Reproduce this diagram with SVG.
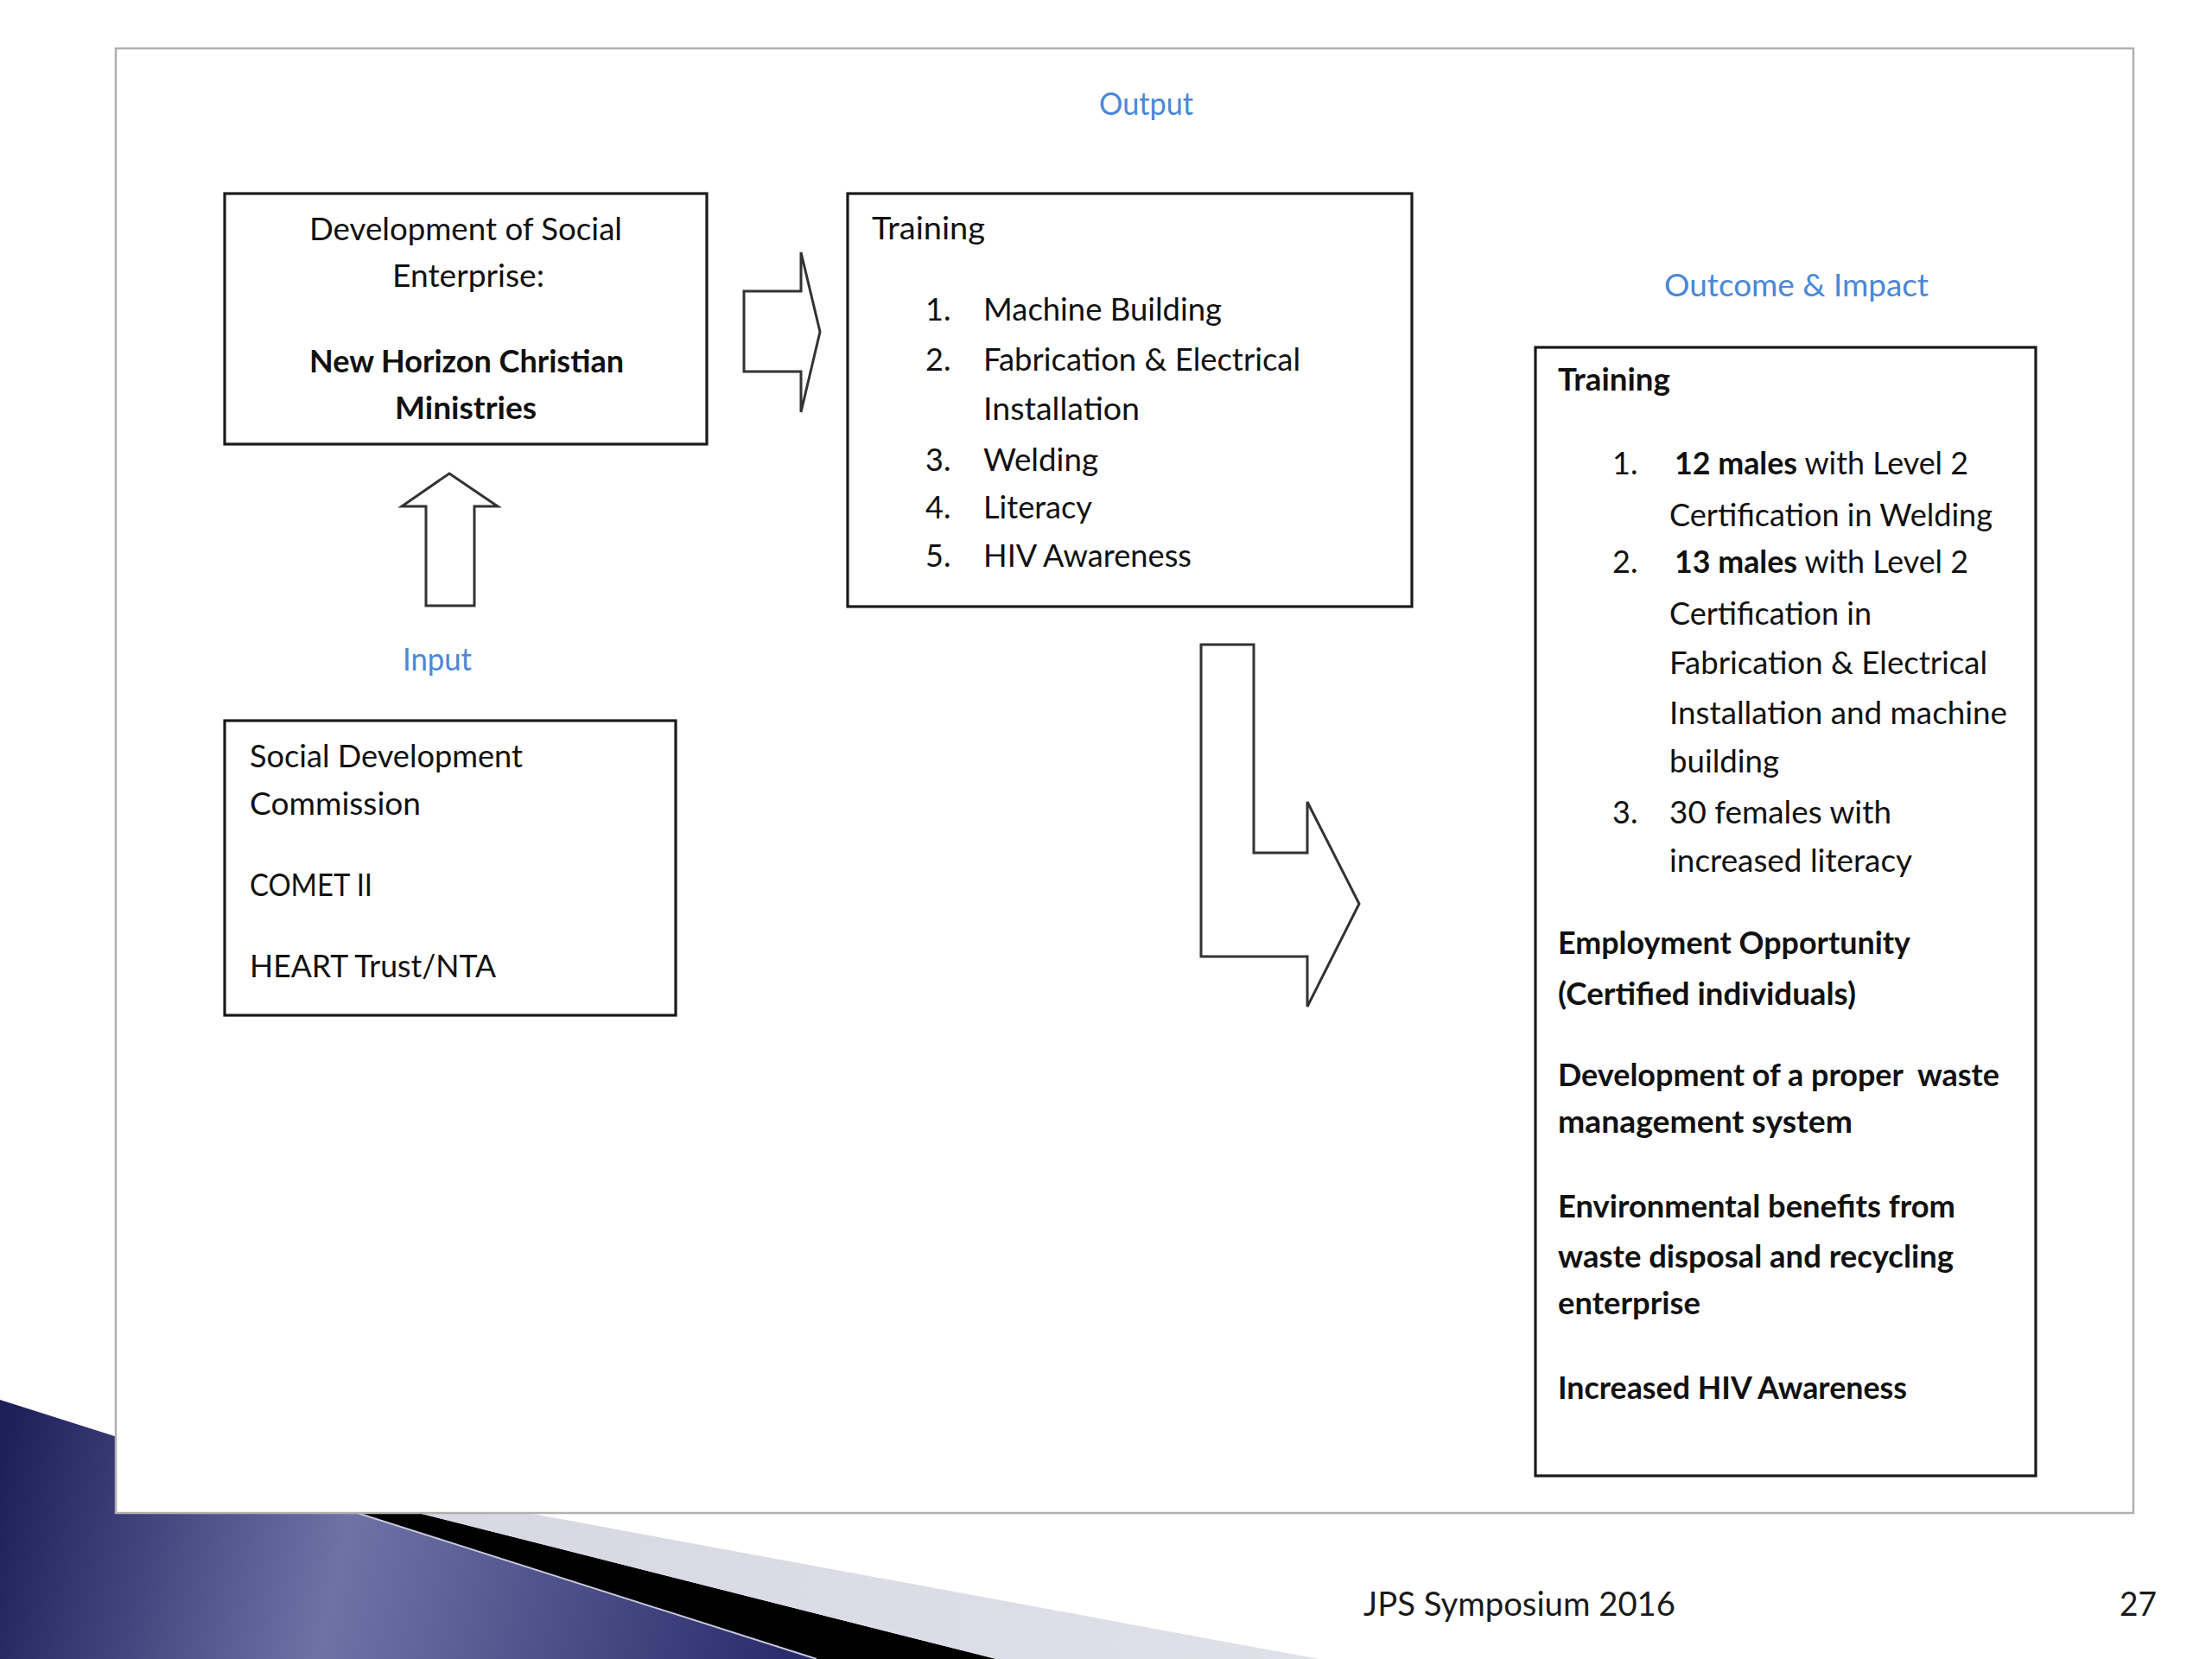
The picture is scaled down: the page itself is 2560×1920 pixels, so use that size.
<svg xmlns="http://www.w3.org/2000/svg" width="2560" height="1920" viewBox="0 0 2560 1920">
<defs>
<linearGradient id="blueG" gradientUnits="userSpaceOnUse" x1="0" y1="1700" x2="945" y2="1920">
<stop offset="0" stop-color="#1e205c"/>
<stop offset="0.42" stop-color="#6e73a6"/>
<stop offset="1" stop-color="#262867"/>
</linearGradient>
<linearGradient id="greyG" gradientUnits="userSpaceOnUse" x1="400" y1="1750" x2="1500" y2="1920">
<stop offset="0" stop-color="#d6d7e0"/>
<stop offset="1" stop-color="#dfe0e8"/>
</linearGradient>
</defs>
<style>
.t{font-family:Lato,"Open Sans","Liberation Sans",sans-serif;font-size:36px;fill:#111}
.b{font-weight:700}
.lbl{font-family:Lato,"Open Sans","Liberation Sans",sans-serif;font-size:36px;fill:#4a88d8}
.box{fill:#fff;stroke:#1a1a1a;stroke-width:3.2}
.arr{fill:#fff;stroke:#333;stroke-width:3;stroke-linejoin:miter}
.foot{font-family:Lato,"Open Sans","Liberation Sans",sans-serif;font-size:39px;fill:#1a1a1a}
</style>
<rect x="0" y="0" width="2560" height="1920" fill="#fff"/>
<g id="decoration">
<polygon points="0,1620 945,1920 0,1920" fill="url(#blueG)"/>
<polygon points="140,1664 945,1920 1153,1920" fill="#000"/>
<polygon points="140,1664 1153,1920 1526,1920" fill="url(#greyG)"/>
<line x1="140" y1="1664" x2="945" y2="1920" stroke="#c8cae0" stroke-width="2"/>
</g>
<g id="slide">
<rect x="134" y="56" width="2335" height="1695" fill="#fff" stroke="#b0b0b0" stroke-width="2.5"/>
</g>
<g id="label-output"><text class="lbl" x="1272" y="133" textLength="109" lengthAdjust="spacingAndGlyphs">Output</text></g>
<g id="label-input"><text class="lbl" x="466" y="776" textLength="80" lengthAdjust="spacingAndGlyphs">Input</text></g>
<g id="label-outcome"><text class="lbl" x="1926" y="343" textLength="306" lengthAdjust="spacingAndGlyphs">Outcome &amp; Impact</text></g>

<g id="node-enterprise">
<rect class="box" x="260" y="224" width="558" height="290"/>
<text class="t" x="358" y="278" textLength="362" lengthAdjust="spacingAndGlyphs">Development of Social</text>
<text class="t" x="454" y="332" textLength="176" lengthAdjust="spacingAndGlyphs">Enterprise:</text>
<text class="t b" x="358" y="431" textLength="364" lengthAdjust="spacingAndGlyphs">New Horizon Christian</text>
<text class="t b" x="457" y="485" textLength="164" lengthAdjust="spacingAndGlyphs">Ministries</text>
</g>

<g id="node-training">
<rect class="box" x="981" y="224" width="653" height="478"/>
<text class="t" x="1009" y="277" textLength="131" lengthAdjust="spacingAndGlyphs">Training</text>
<text class="t" x="1071" y="371">1.</text>
<text class="t" x="1138" y="371" textLength="276" lengthAdjust="spacingAndGlyphs">Machine Building</text>
<text class="t" x="1071" y="429">2.</text>
<text class="t" x="1138" y="429" textLength="367" lengthAdjust="spacingAndGlyphs">Fabrication &amp; Electrical</text>
<text class="t" x="1138" y="486" textLength="181" lengthAdjust="spacingAndGlyphs">Installation</text>
<text class="t" x="1071" y="545">3.</text>
<text class="t" x="1138" y="545" textLength="133" lengthAdjust="spacingAndGlyphs">Welding</text>
<text class="t" x="1071" y="600">4.</text>
<text class="t" x="1138" y="600" textLength="126" lengthAdjust="spacingAndGlyphs">Literacy</text>
<text class="t" x="1071" y="656">5.</text>
<text class="t" x="1138" y="656" textLength="241" lengthAdjust="spacingAndGlyphs">HIV Awareness</text>
</g>

<g id="node-input">
<rect class="box" x="260" y="834" width="522" height="341"/>
<text class="t" x="289" y="888" textLength="316" lengthAdjust="spacingAndGlyphs">Social Development</text>
<text class="t" x="289" y="943" textLength="198" lengthAdjust="spacingAndGlyphs">Commission</text>
<text class="t" x="289" y="1037" textLength="142" lengthAdjust="spacingAndGlyphs">COMET II</text>
<text class="t" x="289" y="1131" textLength="285" lengthAdjust="spacingAndGlyphs">HEART Trust/NTA</text>
</g>

<g id="node-outcome">
<rect class="box" x="1777" y="402" width="579" height="1306"/>
<text class="t b" x="1803" y="452" textLength="130" lengthAdjust="spacingAndGlyphs">Training</text>
<text class="t" x="1866" y="549">1.</text>
<text class="t" x="1938" y="549" textLength="340" lengthAdjust="spacingAndGlyphs"><tspan class="b">12 males</tspan> with Level 2</text>
<text class="t" x="1932" y="609" textLength="374" lengthAdjust="spacingAndGlyphs">Certification in Welding</text>
<text class="t" x="1866" y="663">2.</text>
<text class="t" x="1938" y="663" textLength="340" lengthAdjust="spacingAndGlyphs"><tspan class="b">13 males</tspan> with Level 2</text>
<text class="t" x="1932" y="723" textLength="234" lengthAdjust="spacingAndGlyphs">Certification in</text>
<text class="t" x="1932" y="780" textLength="368" lengthAdjust="spacingAndGlyphs">Fabrication &amp; Electrical</text>
<text class="t" x="1932" y="838" textLength="391" lengthAdjust="spacingAndGlyphs">Installation and machine</text>
<text class="t" x="1932" y="894" textLength="127" lengthAdjust="spacingAndGlyphs">building</text>
<text class="t" x="1866" y="953">3.</text>
<text class="t" x="1932" y="953" textLength="257" lengthAdjust="spacingAndGlyphs">30 females with</text>
<text class="t" x="1932" y="1009" textLength="281" lengthAdjust="spacingAndGlyphs">increased literacy</text>
<text class="t b" x="1803" y="1104" textLength="408" lengthAdjust="spacingAndGlyphs">Employment Opportunity</text>
<text class="t b" x="1803" y="1163" textLength="345" lengthAdjust="spacingAndGlyphs">(Certified individuals)</text>
<text class="t b" x="1803" y="1257" textLength="511" lengthAdjust="spacingAndGlyphs" xml:space="preserve">Development of a proper  waste</text>
<text class="t b" x="1803" y="1311" textLength="341" lengthAdjust="spacingAndGlyphs">management system</text>
<text class="t b" x="1803" y="1409" textLength="460" lengthAdjust="spacingAndGlyphs">Environmental benefits from</text>
<text class="t b" x="1803" y="1467" textLength="458" lengthAdjust="spacingAndGlyphs">waste disposal and recycling</text>
<text class="t b" x="1803" y="1521" textLength="165" lengthAdjust="spacingAndGlyphs">enterprise</text>
<text class="t b" x="1803" y="1619" textLength="404" lengthAdjust="spacingAndGlyphs">Increased HIV Awareness</text>
</g>

<g id="connectors">
<polygon class="arr" points="861,337 927,337 927,292 949,384 927,477 927,430 861,430"/>
<polygon class="arr" points="520,548 576,586 549,586 549,701 493,701 493,586 465,586"/>
<polygon class="arr" points="1390,746 1451,746 1451,987 1513,987 1513,928 1573,1046 1513,1165 1513,1107 1390,1107"/>
</g>

<g id="footer">
<text class="foot" x="1578" y="1870" textLength="361" lengthAdjust="spacingAndGlyphs">JPS Symposium 2016</text>
<text class="foot" x="2453" y="1870" textLength="43" lengthAdjust="spacingAndGlyphs">27</text>
</g>
</svg>
